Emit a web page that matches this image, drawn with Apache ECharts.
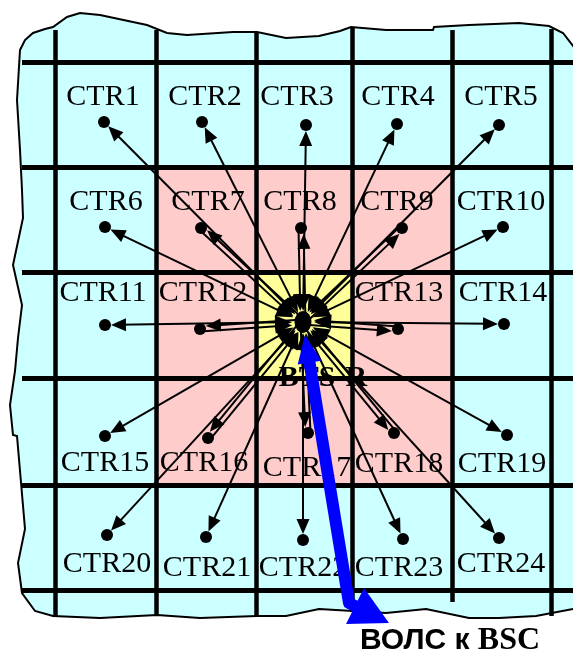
<!DOCTYPE html>
<html>
<head>
<meta charset="utf-8">
<script src="https://cdn.jsdelivr.net/npm/echarts@6/dist/echarts.min.js"></script>
<style>
html, body { margin: 0; padding: 0; background: #fff; }
#chart { width: 573px; height: 655px; }
</style>
</head>
<body>
<div id="chart"></div>
<script>
// cell grid (pixel-like coordinates on hidden axes)
const colXs = [55, 156, 256, 352, 452, 551]
const rowYs = [62, 167, 272, 378, 485, 590]
const colTops = [30, 30, 32, 28, 30, 29]
const colBottoms = [616, 615, 616, 612, 602, 616]
const rowLeft = 22
const rowRight = 573

// wavy outline of the covered area
const borderPts = [
  [20, 50], [25, 40], [33, 33], [45, 29], [53, 27], [67, 17], [80, 13], [100, 15], [147, 25], [167, 33],
  [187, 35], [233, 32], [257, 32], [286, 38], [319, 36], [340, 31], [351, 27], [386, 30], [433, 30],
  [434, 27], [469, 25], [519, 23], [549, 26], [563, 33], [580, 55], [580, 605], [573, 609], [536, 616],
  [499, 618], [469, 618], [426, 609], [386, 613], [353, 611], [319, 609], [286, 616], [257, 616],
  [200, 618], [157, 615], [100, 618], [53, 616], [35, 611], [22, 593], [18, 563], [25, 529], [17, 436],
  [13, 435], [10, 405], [15, 371], [18, 338], [22, 305], [13, 265], [23, 218], [22, 190], [20, 150], [17, 100]
]

// shaded blocks as [col0, row0, col1, row1] indices into the grid
const ringBlock = [1, 1, 4, 4]
const btsBlock = [2, 2, 3, 3]

const ctrNames = [
  "CTR1", "CTR2", "CTR3", "CTR4", "CTR5",
  "CTR6", "CTR7", "CTR8", "CTR9", "CTR10",
  "CTR11", "CTR12", "CTR13", "CTR14",
  "CTR15", "CTR16", "CTR17", "CTR18", "CTR19",
  "CTR20", "CTR21", "CTR22", "CTR23", "CTR24"
]
const ctrDots = [
  [104, 122], [202, 122], [306, 125], [397, 124], [499, 125],
  [105, 227], [201, 228], [301, 228], [402, 228], [503, 227],
  [105, 325], [200, 329], [398, 329], [504, 324],
  [105, 436], [208, 438], [308, 433], [394, 433], [507, 435],
  [107, 535], [206, 537], [303, 540], [403, 539], [499, 538]
]
const ctrLabels = [
  [103, 97], [205, 97], [297, 97], [398, 97], [501, 97],
  [106, 202], [208, 202], [300, 202], [397, 202], [501, 202],
  [103, 293], [203, 293], [399, 293], [503, 293],
  [105, 463], [204, 463], [307, 468], [399, 464], [502, 464],
  [107, 564], [207, 568], [303, 568], [399, 568], [501, 564]
]
const innerRing = ["CTR7", "CTR8", "CTR9", "CTR12", "CTR13", "CTR16", "CTR17", "CTR18"]

const btsPos = [303, 322]
const btsLabelPos = [323, 378]
// fibre link: start arrow tip, bend, end arrow tip
const fiberPath = [[305, 335], [349, 603], [389, 623]]
const fiberLabelPos = [450, 641]

function toward(p, q, d) {
  const dx = q[0] - p[0], dy = q[1] - p[1]
  const l = Math.hypot(dx, dy)
  return [p[0] + dx / l * d, p[1] + dy / l * d]
}
function shift(p, n, d) {
  return [p[0] + n[0] * d, p[1] + n[1] * d]
}
function normal(p, q) {
  const dx = q[0] - p[0], dy = q[1] - p[1]
  const l = Math.hypot(dx, dy)
  return [-dy / l, dx / l]
}

const dotHead = [13, 15]
const hubHead = [14, 17]
const dotR = 6
const hubR = 11

const outArrows = []
const inArrows = []
const bothArrows = []
ctrDots.forEach((p, i) => {
  const c = btsPos
  const n = normal(c, p)
  const nearHub = toward(c, p, hubR + hubHead[1] / 2)
  const nearDot = toward(p, c, dotR + dotHead[1] / 2)
  if (innerRing.includes(ctrNames[i])) {
    outArrows.push({ coords: [shift(c, n, 2.5), shift(nearDot, n, 2.5)] })
    inArrows.push({ coords: [shift(nearHub, n, -2.5), shift(p, n, -2.5)] })
  } else {
    bothArrows.push({ coords: [nearHub, nearDot] })
  }
})

const vLines = colXs.map((x, i) => ({ coords: [[x, colTops[i]], [x, colBottoms[i]]] }))
const hLines = rowYs.map(y => ({ coords: [[rowLeft, y], [rowRight, y]] }))

const blockRect = b => [colXs[b[0]], rowYs[b[1]], colXs[b[2]], rowYs[b[3]]]
const shadeFill = ["#ffcccc", "#ffff99"]

// arrowhead polygon: tip, length along path back toward "from", half width
function head(tip, from, len, half) {
  const base = toward(tip, from, len)
  const n = normal(tip, from)
  return [tip, shift(base, n, half), shift(base, n, -half)]
}

const chart = echarts.init(document.getElementById("chart"))

const thinLine = { color: "#000", width: 2, opacity: 1 }
const blackFill = { color: "#000", opacity: 1 }
const plainText = { show: true, position: "inside", formatter: "{b}", color: "#000", opacity: 1 }

chart.setOption({
  animation: false,
  backgroundColor: "#fff",
  grid: { left: 0, right: 0, top: 0, bottom: 0 },
  xAxis: { type: "value", min: 0, max: 573, show: false },
  yAxis: { type: "value", min: 0, max: 655, inverse: true, show: false },
  series: [
    {
      type: "custom",
      z: 1,
      clip: false,
      data: [[0, 0]],
      renderItem: (params, api) => ({
        type: "polygon",
        shape: { points: borderPts.map(p => api.coord(p)) },
        style: { fill: "#ccffff", stroke: "#000", lineWidth: 2 }
      })
    },
    {
      type: "custom",
      z: 2,
      data: [blockRect(ringBlock), blockRect(btsBlock)],
      renderItem: (params, api) => {
        const p0 = api.coord([api.value(0), api.value(1)])
        const p1 = api.coord([api.value(2), api.value(3)])
        return {
          type: "rect",
          shape: { x: p0[0], y: p0[1], width: p1[0] - p0[0], height: p1[1] - p0[1] },
          style: { fill: shadeFill[params.dataIndex] }
        }
      }
    },
    {
      type: "lines",
      coordinateSystem: "cartesian2d",
      z: 3,
      data: vLines,
      lineStyle: { color: "#000", width: 4.5, opacity: 1 }
    },
    {
      type: "lines",
      coordinateSystem: "cartesian2d",
      z: 3,
      data: hLines,
      lineStyle: { color: "#000", width: 5, opacity: 1 }
    },
    {
      type: "scatter",
      z: 4,
      symbolSize: 1,
      itemStyle: { color: "transparent", opacity: 1 },
      data: ctrLabels.map((p, i) => ({ name: ctrNames[i], value: p })),
      label: Object.assign({}, plainText, { fontFamily: "Liberation Serif", fontSize: 30 })
    },
    {
      type: "lines",
      coordinateSystem: "cartesian2d",
      z: 5,
      data: outArrows,
      symbol: ["none", "triangle"],
      symbolSize: [hubHead, dotHead],
      lineStyle: thinLine,
      itemStyle: blackFill
    },
    {
      type: "lines",
      coordinateSystem: "cartesian2d",
      z: 5,
      data: inArrows,
      symbol: ["triangle", "none"],
      symbolSize: [hubHead, dotHead],
      lineStyle: thinLine,
      itemStyle: blackFill
    },
    {
      type: "lines",
      coordinateSystem: "cartesian2d",
      z: 5,
      data: bothArrows,
      symbol: ["triangle", "triangle"],
      symbolSize: [hubHead, dotHead],
      lineStyle: thinLine,
      itemStyle: blackFill
    },
    {
      type: "scatter",
      z: 6,
      symbolSize: dotR * 2,
      itemStyle: blackFill,
      data: ctrDots
    },
    {
      type: "scatter",
      z: 6,
      symbolSize: [17, 22],
      itemStyle: blackFill,
      data: [btsPos]
    },
    {
      type: "scatter",
      z: 6,
      symbolSize: 1,
      itemStyle: { color: "transparent", opacity: 1 },
      data: [{ name: "BTS-R", value: btsLabelPos }],
      label: Object.assign({}, plainText, { fontFamily: "Liberation Serif", fontWeight: "bold", fontSize: 30 })
    },
    {
      type: "custom",
      z: 7,
      clip: false,
      data: [[0, 0]],
      renderItem: (params, api) => {
        const startTip = fiberPath[0], bend = fiberPath[1], endTip = fiberPath[2]
        const startHead = head(startTip, bend, 28, 12)
        const endHead = head(endTip, bend, 38, 20)
        const body = [toward(startTip, bend, 20), bend, toward(endTip, bend, 30)]
        const blue = "#0000ff"
        return {
          type: "group",
          children: [
            {
              type: "polyline",
              shape: { points: body.map(p => api.coord(p)) },
              style: { stroke: blue, lineWidth: 12, fill: null, lineJoin: "round" }
            },
            { type: "polygon", shape: { points: startHead.map(p => api.coord(p)) }, style: { fill: blue } },
            { type: "polygon", shape: { points: endHead.map(p => api.coord(p)) }, style: { fill: blue } }
          ]
        }
      }
    },
    {
      type: "scatter",
      z: 8,
      symbolSize: 1,
      itemStyle: { color: "transparent", opacity: 1 },
      data: [{ name: "ВОЛС к BSC", value: fiberLabelPos }],
      label: {
        show: true,
        position: "inside",
        opacity: 1,
        formatter: "{a|ВОЛС к }{b|BSC}",
        rich: {
          a: { fontFamily: "Liberation Sans", fontWeight: "bold", fontSize: 30, color: "#000" },
          b: { fontFamily: "Liberation Serif", fontWeight: "bold", fontSize: 32, color: "#000" }
        }
      }
    }
  ]
})
</script>
</body>
</html>
